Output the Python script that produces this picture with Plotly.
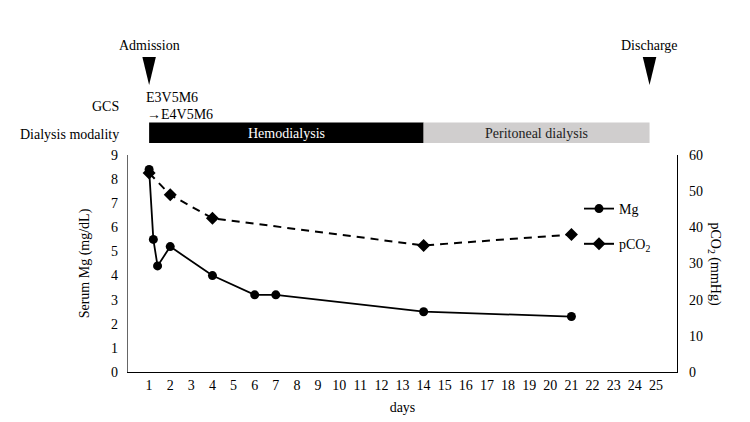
import plotly.graph_objects as go

# ---- data ----
mg_days = [1, 1.2, 1.4, 2, 4, 6, 7, 14, 21]
mg_vals = [8.4, 5.5, 4.4, 5.2, 4.0, 3.2, 3.2, 2.5, 2.3]
pco2_days = [1, 2, 4, 14, 21]
pco2_vals = [55, 49, 42.5, 35, 38]
day_ticks = list(range(1, 26))
left_ticks = list(range(0, 10))
right_ticks = list(range(0, 61, 10))

event_names = ["Admission", "Discharge"]
event_days = [1, 24.7]
modal_names = ["Hemodialysis", "Peritoneal dialysis"]
modal_start = [1, 14]
modal_end = [14, 24.7]
modal_fill = ["#000000", "#d0cece"]
modal_font = ["#ffffff", "#222222"]
gcs_lines = ["E3V5M6", "→E4V5M6"]

FONT = "Liberation Serif, Times New Roman"
F = dict(family=FONT, size=14, color="black")

fig = go.Figure()
fig.add_trace(go.Scatter(x=mg_days, y=mg_vals, name="Mg", mode="lines+markers",
                         line=dict(color="black", width=1.8),
                         marker=dict(symbol="circle", size=9, color="black"),
                         legendgroup="a"))
fig.add_trace(go.Scatter(x=pco2_days, y=pco2_vals, name="pCO<sub>2</sub>", mode="lines+markers",
                         yaxis="y2", showlegend=False,
                         line=dict(color="black", width=2, dash="8px,6px"),
                         marker=dict(symbol="diamond", size=10, color="black"),
                         legendgroup="b"))
# legend entry as drawn in the original (solid key line)
fig.add_trace(go.Scatter(x=[None], y=[None], name="pCO<sub>2</sub>", mode="lines+markers",
                         yaxis="y2",
                         line=dict(color="black", width=2),
                         marker=dict(symbol="diamond", size=10, color="black"),
                         legendgroup="b"))

L, R, T, B = 128, 73, 155, 50
W = 750 - L - R
H = 422 - T - B


def py(p):
    return (422 - B - p) / H


def px(p):
    return (p - L) / W


shapes = []
annotations = []
for name, d in zip(event_names, event_days):
    shapes.append(dict(type="path", xref="x", yref="paper",
                       path=f"M {d-0.32},{py(57)} L {d+0.32},{py(57)} L {d},{py(85)} Z",
                       fillcolor="black", line=dict(width=0)))
    annotations.append(dict(x=d, y=py(45), xref="x", yref="paper", text=name,
                            showarrow=False, font=F, yanchor="middle"))
for n, s, e, f, fc in zip(modal_names, modal_start, modal_end, modal_fill, modal_font):
    shapes.append(dict(type="rect", xref="x", yref="paper", x0=s, x1=e, y0=py(143), y1=py(122.5),
                       fillcolor=f, line=dict(width=0)))
    annotations.append(dict(x=(s + e) / 2, y=py(133), xref="x", yref="paper", text=n,
                            showarrow=False, yanchor="middle",
                            font=dict(family=FONT, size=14, color=fc)))
annotations += [
    dict(x=px(121), y=py(106), xref="paper", yref="paper", text="GCS", showarrow=False,
         xanchor="right", yanchor="middle", font=F),
    dict(x=px(121), y=py(134), xref="paper", yref="paper", text="Dialysis modality",
         showarrow=False, xanchor="right", yanchor="middle", font=F),
    dict(x=px(144), y=py(98), xref="paper", yref="paper", text=gcs_lines[0],
         showarrow=False, xanchor="left", yanchor="middle", font=F),
    dict(x=px(145), y=py(115), xref="paper", yref="paper", text=gcs_lines[1],
         showarrow=False, xanchor="left", yanchor="middle", font=F),
    dict(x=px(714), y=0.5, xref="paper", yref="paper", text="pCO<sub>2</sub> (mmHg)",
         textangle=90, showarrow=False, xanchor="center", yanchor="middle", font=F),
]

fig.update_layout(
    width=750, height=422,
    margin=dict(l=L, r=R, t=T, b=B),
    paper_bgcolor="white", plot_bgcolor="white",
    font=F,
    xaxis=dict(range=[0, 26], tickvals=day_ticks, showgrid=False, zeroline=False,
               showline=True, linecolor="black", linewidth=1.3, ticks="", automargin=False,
               tickfont=F, title=dict(text="days", standoff=10, font=F)),
    yaxis=dict(range=[0, 9], tickvals=left_ticks, showgrid=False, zeroline=False,
               showline=True, linecolor="#666666", linewidth=1.3, ticks="", automargin=False,
               tickfont=F, ticklabelstandoff=6,
               title=dict(text="Serum Mg (mg/dL)", standoff=18, font=F)),
    yaxis2=dict(range=[0, 60], tickvals=right_ticks, overlaying="y", side="right",
                showgrid=False, zeroline=False, showline=True, linecolor="black",
                automargin=False,
                linewidth=1.3, ticks="", tickfont=F, ticklabelstandoff=8),
    legend=dict(x=px(579), y=py(193), xanchor="left", yanchor="top", tracegroupgap=14,
                itemwidth=30, bgcolor="rgba(0,0,0,0)", font=F),
    showlegend=True,
    shapes=shapes, annotations=annotations,
)
fig.write_html("out.html")
